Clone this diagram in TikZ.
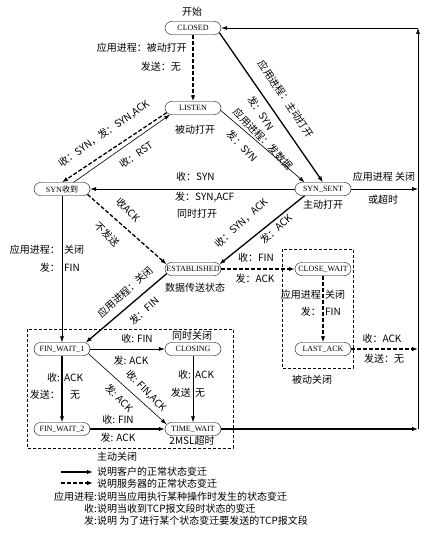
\documentclass[tikz,border=0pt]{standalone}
\usepackage{fontspec}
\setmainfont{Noto Sans CJK SC}
\newfontfamily\statefont{Liberation Serif}
\usetikzlibrary{arrows.meta,shapes.misc}

\begin{document}
\begin{tikzpicture}[x=1pt,y=-1pt,
    state/.style={draw, rounded rectangle, minimum width=58pt, minimum height=13pt,
        inner sep=1pt, font=\statefont\fontsize{8}{9}\selectfont},
    lbl/.style={inner sep=0pt, font=\fontsize{10}{12}\selectfont},
    cli/.style={line width=1.3pt, -{Latex[length=6pt,width=4.5pt]}},
    srv/.style={cli, dash pattern=on 4pt off 2pt},
    app/.style={line width=0.6pt, -{Latex[length=6pt,width=4pt]}},
    box/.style={draw, line width=0.5pt, dash pattern=on 3pt off 2pt}]
    \useasboundingbox (0,0) rectangle (440,537);

    % TCP states
    \node[state] (CLOSED) at (193,28) {CLOSED};
    \node[state] (LISTEN) at (193,108) {LISTEN};
    \node[state] (SYNRCVD) at (62,189) {SYN\rmfamily 收到};
    \node[state] (SYNSENT) at (323,189) {SYN\_SENT};
    \node[state] (ESTAB) at (193,269) {ESTABLISHED};
    \node[state] (CLOSEWAIT) at (323,269) {CLOSE\_WAIT};
    \node[state] (LASTACK) at (323,349) {LAST\_ACK};
    \node[state] (FINWAIT1) at (62,349) {FIN\_WAIT\_1};
    \node[state] (CLOSING) at (193,349) {CLOSING};
    \node[state] (FINWAIT2) at (62,429) {FIN\_WAIT\_2};
    \node[state] (TIMEWAIT) at (193,429) {TIME\_WAIT};

    % right return line
    \coordinate (rtop) at (418,28);
    \coordinate (rsent) at (418,189);
    \coordinate (rlast) at (418,349);
    \coordinate (rtime) at (418,429);

    % open
    \draw[srv] (CLOSED.south) -- (LISTEN.north);
    \node[lbl, anchor=east] (lpas1) at (187,48) {应用进程：被动打开};
    \node[lbl, anchor=east] (lpas2) at (181,67) {发送：无};
    \node[lbl] (lstart) at (192,12) {开始};
    \node[lbl] (llisten) at (195,130) {被动打开};
    \draw[cli] (CLOSED.-10) -- (SYNSENT.north);
    \node[lbl, rotate=-56] (lact1) at (286,99) {应用进程：主动打开};
    \node[lbl, rotate=-56] (lact2) at (261,113) {发：SYN};
    \draw[app] (LISTEN.-5) -- (SYNSENT.160);
    \node[lbl, rotate=-46] (ldat1) at (263,139) {应用进程：发数据};
    \node[lbl, rotate=-46] (ldat2) at (242,146) {发：SYN};
    \draw[srv] (LISTEN.190) -- (SYNRCVD.north);
    \node[lbl, rotate=35] (lrcv) at (104,134) {收：SYN，发：SYN,ACK};
    \draw[app] (SYNRCVD.30) -- (LISTEN.196);
    \node[lbl, rotate=35] (lrst) at (136,155) {收：RST};
    \node[lbl] (lsent) at (323,205) {主动打开};

    % simultaneous open
    \draw[app] (SYNSENT.west) -- (SYNRCVD.east);
    \node[lbl, anchor=west] (lsim1) at (176,177) {收：SYN};
    \node[lbl, anchor=west] (lsim2) at (175,197) {发：SYN,ACF};
    \node[lbl, anchor=west] (lsim3) at (177,214) {同时打开};
    \draw[app] (SYNSENT.east) -- (rsent);
    \node[lbl] (lto1) at (384,177) {应用进程 关闭};
    \node[lbl] (lto2) at (383,200) {或超时};

    % established
    \draw[srv] (SYNRCVD.-12) -- (ESTAB.170);
    \node[lbl, rotate=-45] (lack1) at (128,210) {收ACK};
    \node[lbl, rotate=-45] (lack2) at (107,234) {不发送};
    \draw[cli] (SYNSENT.200) -- (ESTAB.10);
    \node[lbl, rotate=42] (lsa1) at (241,223) {收：SYN，ACK};
    \node[lbl, rotate=42] (lsa2) at (276,229) {发：ACK};
    \node[lbl] (lest) at (195,288) {数据传送状态};
    \draw[app] (SYNRCVD.south) -- (FINWAIT1.north);
    \node[lbl, anchor=east] (lcl1a) at (60,250) {应用进程：};
    \node[lbl, anchor=west] (lcl1b) at (64,250) {关闭};
    \node[lbl, anchor=east] (lcl2a) at (60,268) {发：};
    \node[lbl, anchor=west] (lcl2b) at (64,268) {FIN};

    % passive close
    \draw[box] (282,249) rectangle (353,368);
    \draw[srv] (ESTAB.east) -- (CLOSEWAIT.west);
    \node[lbl] (lfin1) at (256,258) {收：FIN};
    \node[lbl] (lfin2) at (255,279) {发：ACK};
    \draw[srv] (CLOSEWAIT.south) -- (LASTACK.north);
    \node[lbl, anchor=east] (lcw1a) at (321,295) {应用进程};
    \node[lbl, anchor=west] (lcw1b) at (325,295) {关闭};
    \node[lbl, anchor=east] (lcw2a) at (321,312) {发：};
    \node[lbl, anchor=west] (lcw2b) at (325,312) {FIN};
    \draw[srv] (LASTACK.east) -- (rlast);
    \node[lbl] (lla1) at (382,339) {收：ACK};
    \node[lbl] (lla2) at (384,359) {发送：无};
    \node[lbl] (lpc) at (312,380) {被动关闭};

    % active close
    \draw[box] (27,329) rectangle (233,448);
    \draw[cli] (ESTAB.190) -- (FINWAIT1.15);
    \node[lbl, rotate=42] (lec1) at (125,292) {应用进程：关闭};
    \node[lbl, rotate=42] (lec2) at (144,311) {发：FIN};
    \draw[app] (FINWAIT1.east) -- (CLOSING.west);
    \node[lbl] (lsimc) at (192,336) {同时关闭};
    \node[lbl] (lfc1) at (137,339) {收: FIN};
    \node[lbl] (lfc2) at (131,361) {发: ACK};
    \draw[app] (FINWAIT1.-10) -- (TIMEWAIT.170);
    \node[lbl, rotate=-46] (lfa1) at (146,391) {收: FIN,ACK};
    \node[lbl, rotate=-46] (lfa2) at (119,398) {发: ACK};
    \draw[app] (CLOSING.south) -- (TIMEWAIT.north);
    \node[lbl, anchor=east] (lca1a) at (191,375) {收:};
    \node[lbl, anchor=west] (lca1b) at (195,375) {ACK};
    \node[lbl, anchor=east] (lca2a) at (191,393) {发送};
    \node[lbl, anchor=west] (lca2b) at (195,393) {无};
    \draw[cli] (FINWAIT1.south) -- (FINWAIT2.north);
    \node[lbl, anchor=east] (lfw1a) at (60,378) {收:};
    \node[lbl, anchor=west] (lfw1b) at (64,378) {ACK};
    \node[lbl, anchor=east] (lfw2a) at (60,395) {发送：};
    \node[lbl, anchor=west] (lfw2b) at (70,395) {无};
    \draw[cli] (FINWAIT2.east) -- (TIMEWAIT.west);
    \node[lbl] (lft1) at (118,420) {收: FIN};
    \node[lbl] (lft2) at (118,438) {发: ACK};
    \node[lbl] (lmsl) at (192,441) {2MSL超时};
    \node[lbl] (lac) at (117,457) {主动关闭};

    % back to CLOSED
    \draw[cli] (TIMEWAIT.east) -- (rtime);
    \draw[app] (rtime) -- (rtop);
    \draw[app] (rtop) -- (CLOSED.east);

    % legend
    \coordinate (lgA1) at (61,472);
    \coordinate (lgA2) at (93,472);
    \coordinate (lgB1) at (61,483);
    \coordinate (lgB2) at (93,483);
    \draw[cli] (lgA1) -- (lgA2);
    \draw[srv] (lgB1) -- (lgB2);
    \node[lbl, anchor=west] (lg1) at (97,472) {说明客户的正常状态变迁};
    \node[lbl, anchor=west] (lg2) at (97,484) {说明服务器的正常状态变迁};
    \node[lbl, anchor=east] (lg3a) at (97,497) {应用进程:};
    \node[lbl, anchor=west] (lg3) at (97,497) {说明当应用执行某种操作时发生的状态变迁};
    \node[lbl, anchor=east] (lg4a) at (97,509) {收:};
    \node[lbl, anchor=west] (lg4) at (97,509) {说明当收到TCP报文段时状态的变迁};
    \node[lbl, anchor=east] (lg5a) at (97,521) {发:};
    \node[lbl, anchor=west] (lg5) at (97,521) {说明 为了进行某个状态变迁要发送的TCP报文段};
\end{tikzpicture}
\end{document}
